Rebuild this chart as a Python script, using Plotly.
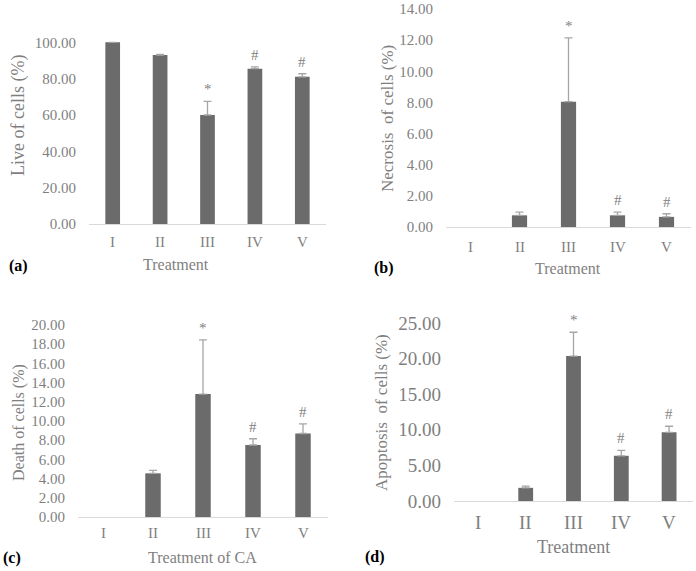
import plotly.graph_objects as go

W, H = 696, 571

categories = ["I", "II", "III", "IV", "V"]

live_vals = [100.0, 93.0, 60.0, 85.5, 81.0]
live_err = [None, 0.3, 7.5, 1.0, 1.7]
live_sig = ["", "", "*", "#", "#"]

necrosis_vals = [0.0, 0.75, 8.05, 0.75, 0.65]
necrosis_err = [None, 0.2, 4.1, 0.2, 0.2]
necrosis_sig = ["", "", "*", "#", "#"]

death_vals = [0.0, 4.55, 12.8, 7.5, 8.7]
death_err = [None, 0.3, 5.65, 0.65, 1.0]
death_sig = ["", "", "*", "#", "#"]

apop_vals = [0.0, 1.85, 20.35, 6.35, 9.65]
apop_err = [None, 0.25, 3.35, 0.75, 0.85]
apop_sig = ["", "", "*", "#", "#"]

BAR = "#6b6b6b"
ERR = "#a6a6a6"
TXT = "#7f7f7f"
LINE = "#d9d9d9"
FONT = "Liberation Serif"


def px_x(a, b):
    return [a / W, b / W]


def px_y(top, bottom):
    return [1 - bottom / H, 1 - top / H]


panels = [
    dict(vals=live_vals, err=live_err, sig=live_sig, xd=px_x(89, 326), yd=px_y(6, 224),
         rng=[0, 120], dtick=20, tfs=15, ytitle="Live of cells (%)", ytx=18, yty=116, ytfs=18,
         xtitle="Treatment", xtx=176, xty=265, xtfs=16, lab="(a)", lx=18, ly=266, cat_y=242),
    dict(vals=necrosis_vals, err=necrosis_err, sig=necrosis_sig, xd=px_x(446, 691), yd=px_y(9, 227),
         rng=[0, 14], dtick=2, tfs=15, ytitle="Necrosis  of cells (%)", ytx=388, yty=119, ytfs=17,
         xtitle="Treatment", xtx=568, xty=268, xtfs=16, lab="(b)", lx=384, ly=268, cat_y=247),
    dict(vals=death_vals, err=death_err, sig=death_sig, xd=px_x(78, 328), yd=px_y(325, 517),
         rng=[0, 20], dtick=2, tfs=15, ytitle="Death of cells (%)", ytx=19, yty=423, ytfs=16,
         xtitle="Treatment of CA", xtx=202, xty=557, xtfs=16, lab="(c)", lx=12, ly=558, cat_y=533),
    dict(vals=apop_vals, err=apop_err, sig=apop_sig, xd=px_x(454, 693), yd=px_y(323, 501),
         rng=[0, 25], dtick=5, tfs=19, ytitle="Apoptosis  of cells (%)", ytx=381, yty=413, ytfs=17,
         xtitle="Treatment", xtx=573, xty=547, xtfs=18, lab="(d)", lx=375, ly=557, cat_y=522),
]

fig = go.Figure()
layout = dict(
    width=W, height=H, margin=dict(l=0, r=0, t=0, b=0, autoexpand=False),
    paper_bgcolor="white", plot_bgcolor="white", showlegend=False,
    font=dict(family=FONT, color=TXT),
    annotations=[],
)

for i, p in enumerate(panels):
    n = "" if i == 0 else str(i + 1)
    xa, ya = "x" + n, "y" + n
    minus = [None if e is None else 0 for e in p["err"]]
    shown = [None if v == 0 else v for v in p["vals"]]  # zero-height bars draw nothing
    fig.add_trace(go.Bar(
        x=categories, y=shown, xaxis=xa, yaxis=ya,
        marker=dict(color=BAR, line=dict(width=0)),
        width=0.31,
        error_y=dict(type="data", symmetric=False, array=p["err"],
                     arrayminus=minus, color=ERR, thickness=1.3, width=4),
    ))
    layout["xaxis" + n] = dict(
        domain=p["xd"], anchor=ya, type="category", range=[-0.5, 4.5], automargin=False,
        categoryorder="array", categoryarray=categories,
        showgrid=False, zeroline=False, showline=True, linecolor=LINE, linewidth=1,
        ticks="", showticklabels=False, fixedrange=True,
    )
    layout["yaxis" + n] = dict(
        domain=p["yd"], anchor=xa, range=p["rng"], dtick=p["dtick"], tick0=0, automargin=False,
        tickformat=".2f", showgrid=False, zeroline=False, showline=False, ticks="",
        ticklabelstandoff=12, tickfont=dict(family=FONT, size=p["tfs"], color=TXT),
        fixedrange=True,
    )
    # category labels
    for c in categories:
        layout["annotations"].append(dict(
            x=c, xref=xa, y=1 - p["cat_y"] / H, yref="paper", text=c, showarrow=False,
            xanchor="center", yanchor="middle",
            font=dict(family=FONT, size=p["tfs"], color=TXT),
        ))
    # significance marks
    for c, v, e, s in zip(categories, p["vals"], p["err"], p["sig"]):
        if s:
            layout["annotations"].append(dict(
                x=c, xref=xa, y=v + (e or 0), yref=ya, text=s, showarrow=False,
                xanchor="center", yanchor="middle", yshift=12,
                font=dict(family=FONT, size=15, color=TXT),
            ))
    # axis titles
    layout["annotations"].append(dict(
        x=p["xtx"] / W, y=1 - p["xty"] / H, xref="paper", yref="paper", text=p["xtitle"],
        showarrow=False, xanchor="center", yanchor="middle",
        font=dict(family=FONT, size=p["xtfs"], color=TXT),
    ))
    layout["annotations"].append(dict(
        x=p["ytx"] / W, y=1 - p["yty"] / H, xref="paper", yref="paper", text=p["ytitle"],
        showarrow=False, xanchor="center", yanchor="middle", textangle=-90,
        font=dict(family=FONT, size=p["ytfs"], color=TXT),
    ))
    layout["annotations"].append(dict(
        x=p["lx"] / W, y=1 - p["ly"] / H, xref="paper", yref="paper", text="<b>" + p["lab"] + "</b>",
        showarrow=False, xanchor="center", yanchor="middle",
        font=dict(family=FONT, size=16, color="#000000"),
    ))

fig.update_layout(**layout)
fig.write_html(
    "out.html",
    config={"displayModeBar": False, "responsive": False},
    post_script="document.body.style.margin='0';document.body.style.overflow='hidden';",
)
